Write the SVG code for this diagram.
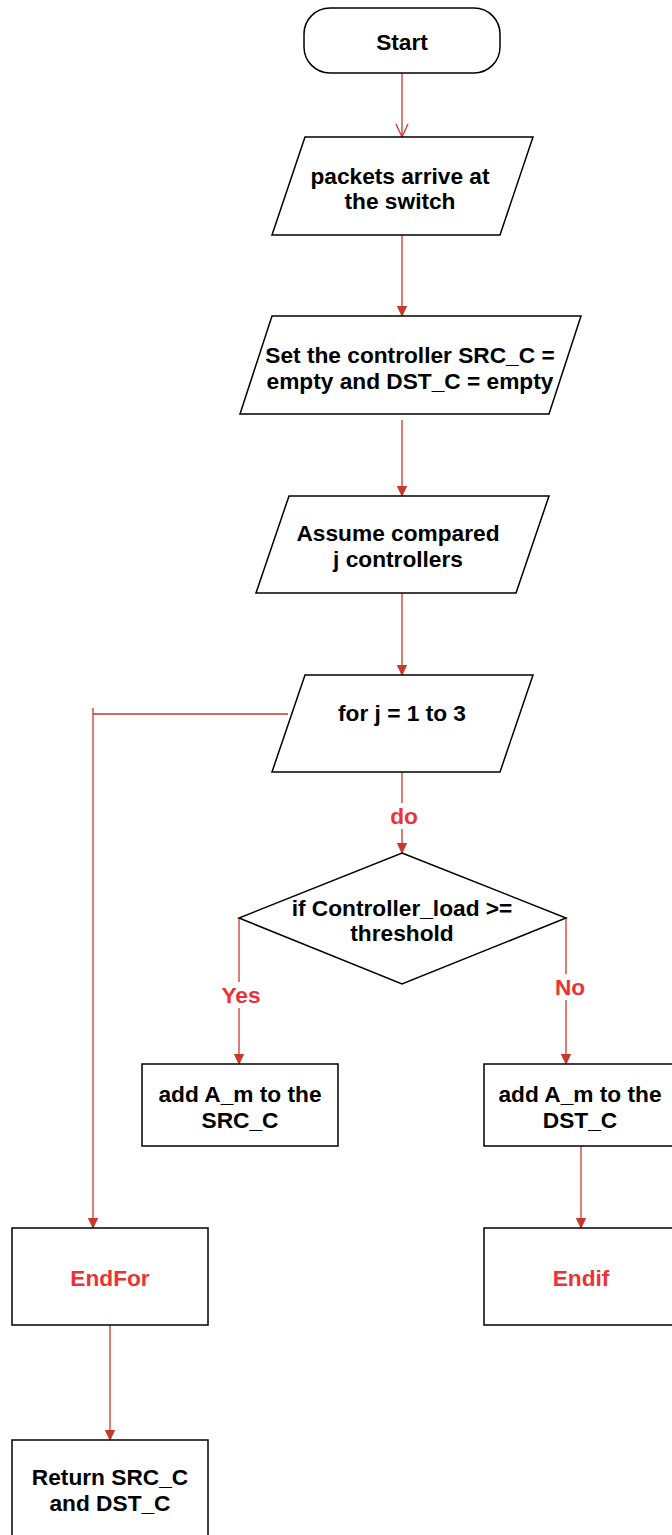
<svg xmlns="http://www.w3.org/2000/svg" width="672" height="1535" viewBox="0 0 672 1535">
<style>
.n{fill:#fff;stroke:#000;stroke-width:1.5}
.t{font-family:"Liberation Sans",Arial,sans-serif;font-weight:bold;font-size:22.7px;fill:#000;text-anchor:middle}
.r{fill:#ED3237}
.c{fill:none;stroke:#C8392B;stroke-width:1.3}
</style>
<defs>
<marker id="a" markerUnits="userSpaceOnUse" markerWidth="20" markerHeight="20" viewBox="-10 -10 20 20" refX="0" refY="0" orient="auto">
<path d="M0,0 L-15,-7 L-11,0 L-15,7 Z" fill="#C8392B" stroke="#C8392B" stroke-width="1"/>
</marker>
<marker id="o" markerUnits="userSpaceOnUse" markerWidth="20" markerHeight="20" viewBox="-14 -10 20 20" refX="0" refY="0" orient="auto">
<path d="M-13,-6 L0,0 L-13,6" fill="none" stroke="#C8392B" stroke-width="1.3"/>
</marker>
</defs>
<g id="connectors">
<path class="c" d="M402,73 V137" marker-end="url(#o)"/>
<path class="c" d="M402,235 V316" marker-end="url(#a)"/>
<path class="c" d="M402,420 V496" marker-end="url(#a)"/>
<path class="c" d="M402,593 V675" marker-end="url(#a)"/>
<path class="c" d="M288,714 H93 M93,708 V1228" marker-end="url(#a)"/>
<path class="c" d="M402,772 V803 M402,829 V853" marker-end="url(#a)"/>
<path class="c" d="M239,918 V982 M239,1008 V1064" marker-end="url(#a)"/>
<path class="c" d="M566,918 V974 M566,1000 V1064" marker-end="url(#a)"/>
<path class="c" d="M581,1146 V1228" marker-end="url(#a)"/>
<path class="c" d="M110,1325 V1440" marker-end="url(#a)"/>
<text class="t r" x="404" y="824">do</text>
<text class="t r" x="241" y="1003">Yes</text>
<text class="t r" x="570" y="995">No</text>
</g>
<g id="start">
<rect class="n" x="304" y="8" width="196" height="65" rx="26"/>
<text class="t" x="402" y="50">Start</text>
</g>
<g id="packets">
<path class="n" d="M305,137 H533 L500,235 H272 Z"/>
<text class="t" x="400" y="184">packets arrive at</text>
<text class="t" x="400" y="209">the switch</text>
</g>
<g id="set">
<path class="n" d="M272,316 H581 L549,414 H240 Z"/>
<text class="t" x="410" y="363">Set the controller SRC_C =</text>
<text class="t" x="410" y="389">empty and DST_C = empty</text>
</g>
<g id="assume">
<path class="n" d="M289,496 H549 L516,593 H256 Z"/>
<text class="t" x="398" y="541">Assume compared</text>
<text class="t" x="398" y="567">j controllers</text>
</g>
<g id="for">
<path class="n" d="M305,675 H533 L500,772 H272 Z"/>
<text class="t" x="402" y="721">for j = 1 to 3</text>
</g>
<g id="decision">
<path class="n" d="M402,853 L566,918 L402,984 L239,918 Z"/>
<text class="t" x="402" y="916">if Controller_load &gt;=</text>
<text class="t" x="402" y="941">threshold</text>
</g>
<g id="addsrc">
<rect class="n" x="142" y="1064" width="196" height="82"/>
<text class="t" x="240" y="1102">add A_m to the</text>
<text class="t" x="240" y="1128">SRC_C</text>
</g>
<g id="adddst">
<rect class="n" x="484" y="1064" width="196" height="82"/>
<text class="t" x="580" y="1102">add A_m to the</text>
<text class="t" x="580" y="1128">DST_C</text>
</g>
<g id="endfor">
<rect class="n" x="12" y="1228" width="196" height="97"/>
<text class="t r" x="110" y="1286">EndFor</text>
</g>
<g id="endif">
<rect class="n" x="484" y="1228" width="196" height="97"/>
<text class="t r" x="581" y="1286">Endif</text>
</g>
<g id="return">
<rect class="n" x="12" y="1440" width="196" height="110"/>
<text class="t" x="110" y="1485">Return SRC_C</text>
<text class="t" x="110" y="1511">and DST_C</text>
</g>
</svg>
